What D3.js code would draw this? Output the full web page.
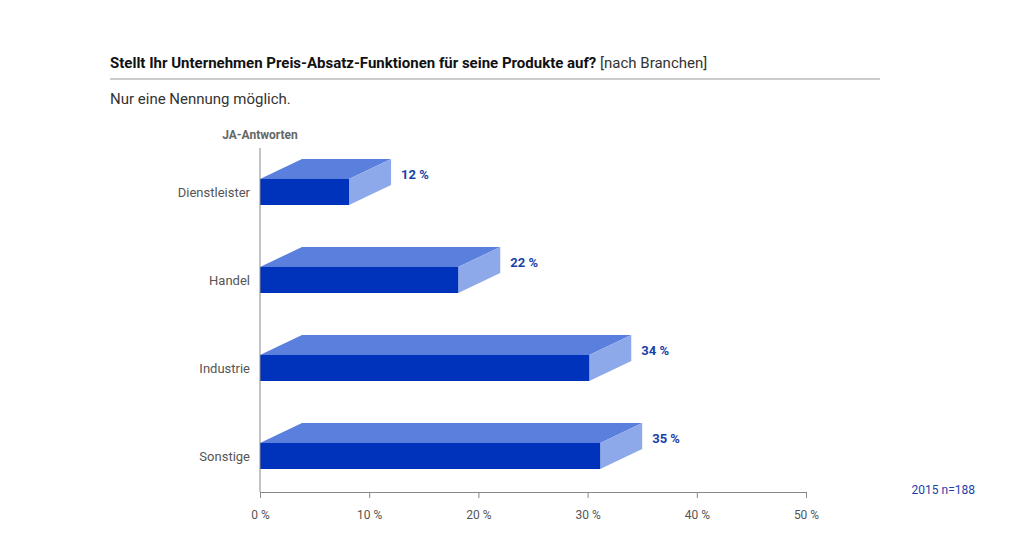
<!DOCTYPE html><html><head><meta charset="utf-8"><script src="https://cdn.jsdelivr.net/npm/d3@7"></script>
<style>body{margin:0;background:#fff}text{font-family:"Liberation Sans Narrow","Roboto",sans-serif}</style></head><body><svg id="c" width="1030" height="549"></svg><script>
const categories=["Dienstleister","Handel","Industrie","Sonstige"];
const values=[12,22,34,35];
const ticks=[0,10,20,30,40,50];
const svg=d3.select("#c");
const x=d3.scaleLinear().domain([0,50]).range([260,806]);
const y=d3.scaleBand().domain(categories).range([148,500]).paddingInner(0).paddingOuter(0);
const dx=42,dy=20,h=26;
svg.append("text").attr("x",110).attr("y",68).attr("font-size",15).attr("fill","#111").attr("font-weight","bold").text("Stellt Ihr Unternehmen Preis-Absatz-Funktionen für seine Produkte auf? ")
 .append("tspan").attr("font-weight","normal").attr("fill","#333").text("[nach Branchen]");
svg.append("line").attr("x1",110).attr("x2",880).attr("y1",79).attr("y2",79).attr("stroke","#999");
svg.append("text").attr("x",110).attr("y",104).attr("font-size",15).attr("fill","#333").text("Nur eine Nennung möglich.");
svg.append("text").attr("x",260).attr("y",139).attr("font-size",12).attr("font-weight","bold").attr("fill","#666").attr("text-anchor","middle").text("JA-Antworten");
categories.forEach((c,i)=>{
 const yb=y(c)+31+h, yt=yb-h, xe=x(values[i])-dx, x0=x(0);
 const g=svg.append("g");
 g.append("polygon").attr("points",[[x0,yt],[x0+dx,yt-dy],[xe+dx,yt-dy],[xe,yt]].join(" ")).attr("fill","#5a7fdc");
 g.append("polygon").attr("points",[[xe,yt],[xe+dx,yt-dy],[xe+dx,yb-dy],[xe,yb]].join(" ")).attr("fill","#8ea9ea");
 g.append("rect").attr("x",x0).attr("y",yt).attr("width",xe-x0).attr("height",h).attr("fill","#0033bb");
 g.append("text").attr("x",xe+dx+10).attr("y",yt-dy+20).attr("font-size",13).attr("font-weight","bold").attr("fill","#1a3fa8").text(values[i]+" %");
 svg.append("text").attr("x",250).attr("y",yb-8).attr("text-anchor","end").attr("font-size",13).attr("fill","#555").text(c);
});
svg.append("line").attr("x1",260).attr("x2",260).attr("y1",148).attr("y2",492).attr("stroke","#888");
const ax=svg.append("g").attr("transform","translate(0,492)").call(d3.axisBottom(x).tickValues(ticks).tickSize(6).tickPadding(12).tickFormat(d=>d+" %"));
ax.select(".domain").attr("stroke","#888");ax.selectAll(".tick line").attr("stroke","#888");
ax.selectAll("text").attr("font-size",12).attr("fill","#555").attr("font-family",null);
svg.append("text").attr("x",975).attr("y",494).attr("text-anchor","end").attr("font-size",12).attr("fill","#1a3fa8").text("2015   n=188");
</script></body></html>
